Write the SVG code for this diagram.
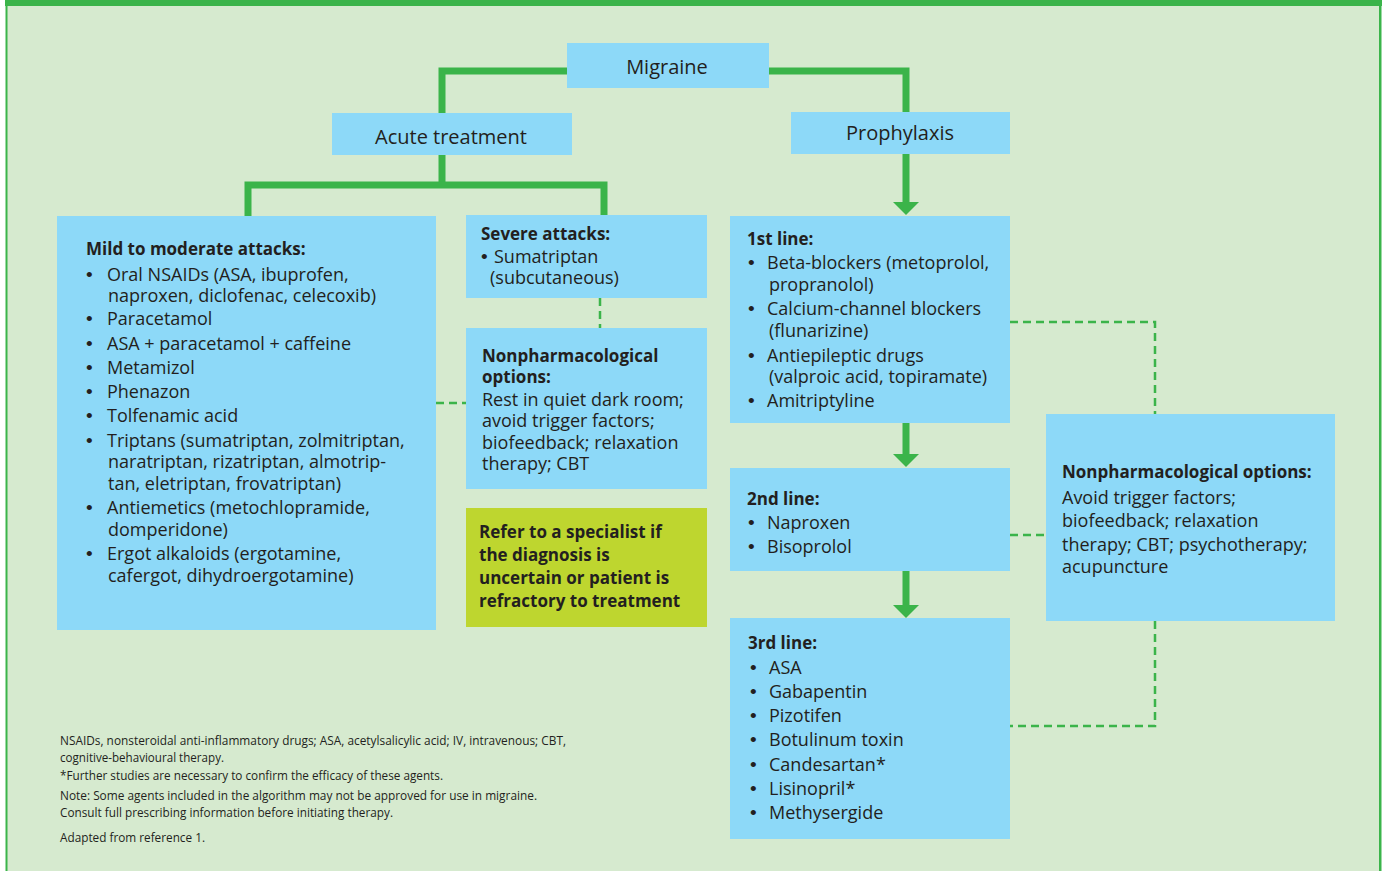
<svg xmlns="http://www.w3.org/2000/svg" width="1386" height="871" viewBox="0 0 1386 871">
<style>
.bg{fill:#d6eacf}
.frame{fill:#3bb44a}
.box{fill:#8dd9f8}
.refer{fill:#bed62f}
.t{font-family:"Open Sans","Noto Sans","DejaVu Sans",sans-serif;fill:#231f20}
.title{font-size:20px;text-anchor:middle}
.b{font-size:17px;font-weight:bold}
.r{font-size:18px}
.bu{font-family:"Liberation Sans",Arial,sans-serif;font-size:19px;fill:#231f20}
.fn{font-size:12px}
.conn{fill:none;stroke:#3bb44a;stroke-width:7;stroke-linejoin:miter}
.dash{fill:none;stroke:#3bb44a;stroke-width:2.5;stroke-dasharray:8 5}
</style>
<defs>
<marker id="ah" viewBox="0 0 13 26" markerWidth="13" markerHeight="26" refX="0" refY="13" orient="auto" markerUnits="userSpaceOnUse">
<path d="M0,0 L13,13 L0,26 Z" fill="#3bb44a"/>
</marker>
</defs>
<rect x="0" y="0" width="1386" height="871" fill="#ffffff"/>
<rect class="bg" x="6" y="0" width="1375" height="871"/>
<rect class="frame" x="5" y="0" width="1377" height="6"/>
<rect class="frame" x="5.5" y="0" width="2" height="871"/>
<rect class="frame" x="1379" y="0" width="2.5" height="871"/>

<g id="connectors">
<path class="conn" d="M567,71 H442 V113"/>
<path class="conn" d="M769,71 H906 V112"/>
<path class="conn" d="M442,155 V185"/>
<path class="conn" d="M248,216 V185 H604 V215"/>
<path class="conn" d="M906,154 V202" marker-end="url(#ah)"/>
<path class="conn" d="M906,423 V454" marker-end="url(#ah)"/>
<path class="conn" d="M906,571 V605" marker-end="url(#ah)"/>
<path class="dash" d="M600,298 V328"/>
<path class="dash" d="M436,403 H466"/>
<path class="dash" d="M1010,322 H1155 V414"/>
<path class="dash" d="M1010,535 H1046"/>
<path class="dash" d="M1155,621 V726 H1010"/>
</g>

<g id="migraine">
<rect class="box" x="567" y="43" width="202" height="45"/>
<text class="t title" x="667" y="74">Migraine</text>
</g>

<g id="acute">
<rect class="box" x="332" y="113" width="240" height="42"/>
<text class="t title" x="451" y="144">Acute treatment</text>
</g>

<g id="prophylaxis">
<rect class="box" x="791" y="112" width="219" height="42"/>
<text class="t title" x="900" y="140">Prophylaxis</text>
</g>

<g id="mild">
<rect class="box" x="57" y="216" width="379" height="414"/>
<text class="t b" x="86" y="255">Mild to moderate attacks:</text>
<g class="bu">
<text x="86" y="281">•</text>
<text x="86" y="325">•</text>
<text x="86" y="350">•</text>
<text x="86" y="374">•</text>
<text x="86" y="398">•</text>
<text x="86" y="422">•</text>
<text x="86" y="447">•</text>
<text x="86" y="514">•</text>
<text x="86" y="560">•</text>
</g>
<g class="t r">
<text x="107" y="281">Oral NSAIDs (ASA, ibuprofen,</text>
<text x="108" y="302">naproxen, diclofenac, celecoxib)</text>
<text x="107" y="325">Paracetamol</text>
<text x="107" y="350">ASA + paracetamol + caffeine</text>
<text x="107" y="374">Metamizol</text>
<text x="107" y="398">Phenazon</text>
<text x="107" y="422">Tolfenamic acid</text>
<text x="107" y="447">Triptans (sumatriptan, zolmitriptan,</text>
<text x="108" y="468">naratriptan, rizatriptan, almotrip-</text>
<text x="108" y="490">tan, eletriptan, frovatriptan)</text>
<text x="107" y="514">Antiemetics (metochlopramide,</text>
<text x="108" y="536">domperidone)</text>
<text x="107" y="560">Ergot alkaloids (ergotamine,</text>
<text x="108" y="582">cafergot, dihydroergotamine)</text>
</g>
</g>

<g id="severe">
<rect class="box" x="466" y="215" width="241" height="83"/>
<text class="t b" x="481" y="240">Severe attacks:</text>
<text class="bu" x="481" y="263">•</text>
<text class="t r" x="494" y="263">Sumatriptan</text>
<text class="t r" x="490" y="284">(subcutaneous)</text>
</g>

<g id="nonpharm-acute">
<rect class="box" x="466" y="328" width="241" height="161"/>
<text class="t b" x="482" y="362">Nonpharmacological</text>
<text class="t b" x="482" y="383">options:</text>
<g class="t r">
<text x="482" y="406">Rest in quiet dark room;</text>
<text x="482" y="427">avoid trigger factors;</text>
<text x="482" y="449">biofeedback; relaxation</text>
<text x="482" y="470">therapy; CBT</text>
</g>
</g>

<g id="refer">
<rect class="refer" x="466" y="508" width="241" height="119"/>
<g class="t b">
<text x="479" y="538">Refer to a specialist if</text>
<text x="479" y="561">the diagnosis is</text>
<text x="479" y="584">uncertain or patient is</text>
<text x="479" y="607">refractory to treatment</text>
</g>
</g>

<g id="line1">
<rect class="box" x="730" y="216" width="280" height="207"/>
<text class="t b" x="747" y="245">1st line:</text>
<g class="bu">
<text x="748" y="269">•</text>
<text x="748" y="315">•</text>
<text x="748" y="362">•</text>
<text x="748" y="407">•</text>
</g>
<g class="t r">
<text x="767" y="269">Beta-blockers (metoprolol,</text>
<text x="769" y="291">propranolol)</text>
<text x="767" y="315">Calcium-channel blockers</text>
<text x="769" y="337">(flunarizine)</text>
<text x="767" y="362">Antiepileptic drugs</text>
<text x="769" y="383">(valproic acid, topiramate)</text>
<text x="767" y="407">Amitriptyline</text>
</g>
</g>

<g id="line2">
<rect class="box" x="730" y="468" width="280" height="103"/>
<text class="t b" x="747" y="505">2nd line:</text>
<g class="bu">
<text x="748" y="529">•</text>
<text x="748" y="553">•</text>
</g>
<g class="t r">
<text x="767" y="529">Naproxen</text>
<text x="767" y="553">Bisoprolol</text>
</g>
</g>

<g id="line3">
<rect class="box" x="730" y="618" width="280" height="221"/>
<text class="t b" x="748" y="649">3rd line:</text>
<g class="bu">
<text x="750" y="674">•</text>
<text x="750" y="698">•</text>
<text x="750" y="722">•</text>
<text x="750" y="746">•</text>
<text x="750" y="771">•</text>
<text x="750" y="795">•</text>
<text x="750" y="819">•</text>
</g>
<g class="t r">
<text x="769" y="674">ASA</text>
<text x="769" y="698">Gabapentin</text>
<text x="769" y="722">Pizotifen</text>
<text x="769" y="746">Botulinum toxin</text>
<text x="769" y="771">Candesartan*</text>
<text x="769" y="795">Lisinopril*</text>
<text x="769" y="819">Methysergide</text>
</g>
</g>

<g id="nonpharm-prophylaxis">
<rect class="box" x="1046" y="414" width="289" height="207"/>
<text class="t b" x="1062" y="478">Nonpharmacological options:</text>
<g class="t r">
<text x="1062" y="504">Avoid trigger factors;</text>
<text x="1062" y="527">biofeedback; relaxation</text>
<text x="1062" y="551">therapy; CBT; psychotherapy;</text>
<text x="1062" y="573">acupuncture</text>
</g>
</g>

<g id="footnotes" class="t fn">
<text x="60" y="745" textLength="506" lengthAdjust="spacingAndGlyphs">NSAIDs, nonsteroidal anti-inflammatory drugs; ASA, acetylsalicylic acid; IV, intravenous; CBT,</text>
<text x="60" y="762" textLength="164" lengthAdjust="spacingAndGlyphs">cognitive-behavioural therapy.</text>
<text x="60" y="780" textLength="383" lengthAdjust="spacingAndGlyphs">*Further studies are necessary to confirm the efficacy of these agents.</text>
<text x="60" y="800" textLength="477" lengthAdjust="spacingAndGlyphs">Note: Some agents included in the algorithm may not be approved for use in migraine.</text>
<text x="60" y="817" textLength="333" lengthAdjust="spacingAndGlyphs">Consult full prescribing information before initiating therapy.</text>
<text x="60" y="842" textLength="145" lengthAdjust="spacingAndGlyphs">Adapted from reference 1.</text>
</g>
</svg>
